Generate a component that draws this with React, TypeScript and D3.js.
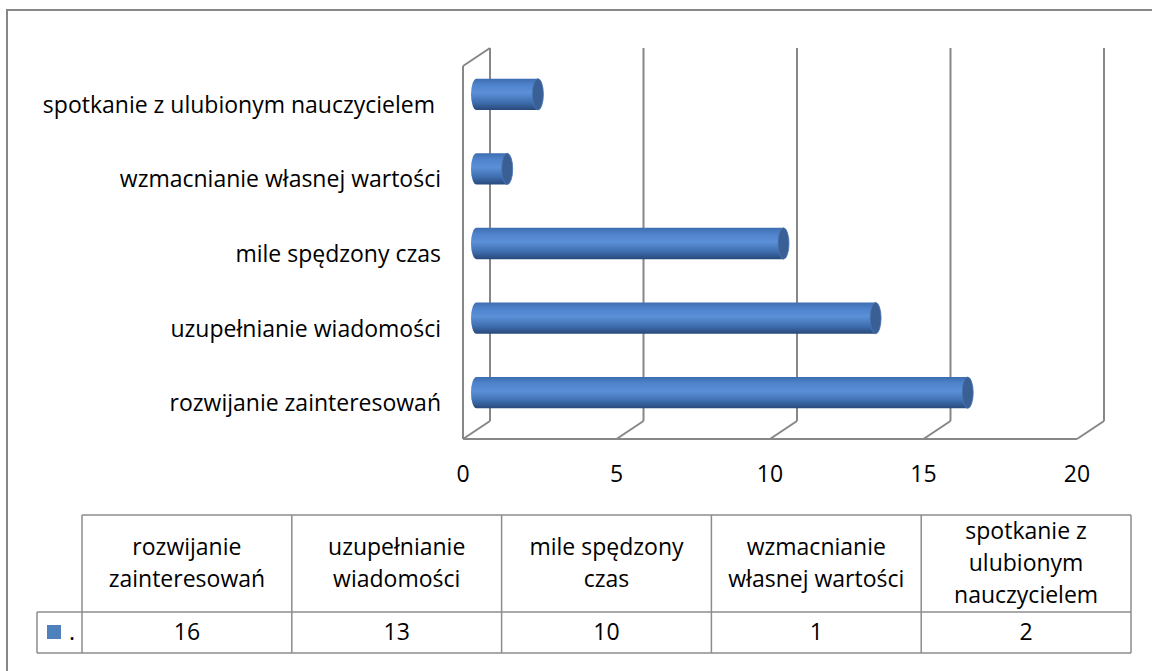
import * as d3 from 'd3'

const categories = [
  'rozwijanie zainteresowań',
  'uzupełnianie wiadomości',
  'mile spędzony czas',
  'wzmacnianie własnej wartości',
  'spotkanie z ulubionym nauczycielem\u00a0',
]
const values = [16, 13, 10, 1, 2]
const headerLines = [
  ['rozwijanie', 'zainteresowań'],
  ['uzupełnianie', 'wiadomości'],
  ['mile spędzony', 'czas'],
  ['wzmacnianie', 'własnej wartości'],
  ['spotkanie z', 'ulubionym', 'nauczycielem'],
]
const ticks = [0, 5, 10, 15, 20]
const seriesName = '.'

const W = 1152
const H = 671
const FONT = '"Open Sans", sans-serif'
const FS = 23
const GRID = '#878787'
const DX = 27
const DY = -18

export default function App() {
  const x = d3.scaleLinear().domain([0, 20]).range([463, 1077])
  const y = d3
    .scaleBand<string>()
    .domain([...categories].reverse())
    .range([66, 439])
    .paddingInner(0.58)
    .paddingOuter(0.29)
  const bw = y.bandwidth()
  const top = 66
  const bottom = 439

  const col = d3.scaleBand<string>().domain(categories).range([82, 1131])
  const tTop = 515
  const tMid = 612
  const tBot = 653

  const rx = 5.5
  const ry = bw / 2

  return (
    <svg
      width={W}
      height={H}
      style={{ position: 'absolute', left: 0, top: 0, background: '#fff' }}
      fontFamily={FONT}
    >
      <defs>
        <linearGradient id="cyl" x1="0" y1="0" x2="0" y2="1">
          <stop offset="0" stopColor="#3d6db0" />
          <stop offset="0.2" stopColor="#4f83cc" />
          <stop offset="0.45" stopColor="#5b90d8" />
          <stop offset="0.75" stopColor="#3f6fb0" />
          <stop offset="1" stopColor="#28497a" />
        </linearGradient>
      </defs>

      {/* outer frame */}
      <rect x={7} y={10} width={W} height={H} fill="none" stroke={GRID} strokeWidth={2} />

      {/* walls and gridlines */}
      <g stroke={GRID} strokeWidth={2} fill="none">
        <line x1={x(0)} y1={top} x2={x(0)} y2={bottom} />
        <line x1={x(0)} y1={top} x2={x(0) + DX} y2={top + DY} />
        {ticks.map((t) => (
          <g key={t}>
            <line x1={x(t) + DX} y1={top + DY} x2={x(t) + DX} y2={bottom + DY} />
            <line x1={x(t)} y1={bottom} x2={x(t) + DX} y2={bottom + DY} />
          </g>
        ))}
        <line x1={x(0)} y1={bottom} x2={x(20)} y2={bottom} />
      </g>

      {/* cylinders */}
      {categories.map((c, i) => {
        const cy = (y(c) as number) + bw / 2 + DY / 2
        const x0 = x(0) + DX / 2
        const x1 = x(values[i]) + DX / 2
        const body = `M${x0},${cy - ry} L${x1},${cy - ry} L${x1},${cy + ry} L${x0},${cy + ry} A${rx},${ry} 0 0 1 ${x0},${cy - ry} Z`
        return (
          <g key={c}>
            <path d={body} fill="url(#cyl)" />
            <ellipse cx={x1} cy={cy} rx={rx} ry={ry} fill="#3a5f95" stroke="#4a76b4" strokeWidth={0.8} />
          </g>
        )
      })}

      {/* category labels */}
      {categories.map((c) => (
        <text
          key={c}
          x={441}
          y={(y(c) as number) + bw / 2 + 9.5}
          textAnchor="end"
          fontSize={FS}
          fill="#000"
        >
          {c}
        </text>
      ))}

      {/* tick labels */}
      {ticks.map((t) => (
        <text key={t} x={x(t)} y={482} textAnchor="middle" fontSize={FS} fill="#000">
          {t}
        </text>
      ))}

      {/* data table */}
      <g stroke="#8c8c8c" strokeWidth={1.5} fill="none">
        <line x1={82} y1={tTop} x2={1131} y2={tTop} />
        <line x1={37} y1={tMid} x2={1131} y2={tMid} />
        <line x1={37} y1={tBot} x2={1131} y2={tBot} />
        <line x1={37} y1={tMid} x2={37} y2={tBot} />
        {categories.map((c) => (
          <line key={c} x1={col(c)} y1={tTop} x2={col(c)} y2={tBot} />
        ))}
        <line x1={1131} y1={tTop} x2={1131} y2={tBot} />
      </g>
      {categories.map((c, i) => {
        const cx = (col(c) as number) + col.bandwidth() / 2
        const lines = headerLines[i]
        const mid = (tTop + tMid) / 2
        const first = mid - ((lines.length - 1) * 32) / 2 + 7
        return (
          <g key={c}>
            {lines.map((l, j) => (
              <text key={j} x={cx} y={first + j * 32} textAnchor="middle" fontSize={FS} fill="#000">
                {l}
              </text>
            ))}
            <text x={cx} y={640} textAnchor="middle" fontSize={FS} fill="#000">
              {values[i]}
            </text>
          </g>
        )
      })}
      <rect x={47} y={625} width={14} height={14} fill="#4f81bd" />
      <text x={69} y={640} fontSize={FS} fill="#000">
        {seriesName}
      </text>
    </svg>
  )
}
